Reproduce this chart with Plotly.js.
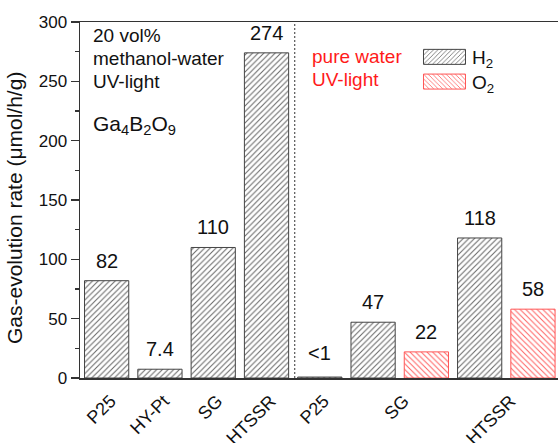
<!DOCTYPE html>
<html>
<head>
<meta charset="utf-8">
<script src="https://cdn.plot.ly/plotly-3.0.1.min.js"></script>
<style>
  html, body { margin: 0; padding: 0; background: #fff; }
  #chart { width: 558px; height: 443px; }
</style>
</head>
<body>
<div id="chart"></div>
<script>
// Ga4B2O9 photocatalysts: H2 / O2 evolution rates (µmol/h/g)

// 20 vol% methanol-water, UV light (H2 only)
const methanolSamples = ['P25', 'HY-Pt', 'SG', 'HTSSR'];
const methanolH2 = [82, 7.4, 110, 274];
const methanolH2Labels = ['82', '7.4', '110', '274'];

// pure water, UV light
const waterSamples = ['P25', 'SG', 'HTSSR'];
const waterH2 = [0.8, 47, 118];
const waterH2Labels = ['<1', '47', '118'];
const waterO2 = [null, 22, 58];
const waterO2Labels = [null, '22', '58'];

// lay the bars out slot by slot along a numeric x axis
let slot = 0;
const h2X = [], h2Y = [], h2Text = [];
const o2X = [], o2Y = [], o2Text = [];
const tickVals = [], tickText = [];

methanolSamples.forEach((name, i) => {
  h2X.push(slot); h2Y.push(methanolH2[i]); h2Text.push(methanolH2Labels[i]);
  tickVals.push(slot); tickText.push(name);
  slot += 1;
});
const dividerX = slot - 0.47;
waterSamples.forEach((name, i) => {
  const start = slot;
  h2X.push(slot); h2Y.push(waterH2[i]); h2Text.push(waterH2Labels[i]);
  slot += 1;
  if (waterO2[i] !== null) {
    o2X.push(slot); o2Y.push(waterO2[i]); o2Text.push(waterO2Labels[i]);
    slot += 1;
  }
  tickVals.push((start + slot - 1) / 2); tickText.push(name);
});

const FONT = 'Arial, "Liberation Sans", sans-serif';
const BAR_W = 0.83;

// plot area geometry (pixels) used to place the free-floating captions
const W = 558, H = 443, M = { l: 80, r: 0, t: 22, b: 65 };
const plotH = H - M.t - M.b;
const py = p => (H - M.b - p) / plotH;   // pixel row -> paper y
const px = p => (p - M.l) / (W - M.l - M.r); // pixel column -> paper x

const traces = [
  {
    type: 'bar', name: 'H<sub>2</sub>', x: h2X, y: h2Y, width: BAR_W,
    marker: {
      color: '#ffffff',
      line: { color: '#444444', width: 1 },
      pattern: { shape: '/', fgcolor: '#666666', bgcolor: '#ffffff', size: 4, solidity: 0.25 }
    },
    hoverinfo: 'skip'
  },
  {
    type: 'bar', name: 'O<sub>2</sub>', x: o2X, y: o2Y, width: BAR_W,
    marker: {
      color: '#ffffff',
      line: { color: '#ff5555', width: 1 },
      pattern: { shape: '\\', fgcolor: '#ff6060', bgcolor: '#ffffff', size: 4, solidity: 0.25 }
    },
    hoverinfo: 'skip'
  }
];

// value labels sitting above each bar
const valueLabels = [];
h2X.forEach((x, i) => valueLabels.push({ x: x, y: h2Y[i], text: h2Text[i] }));
o2X.forEach((x, i) => valueLabels.push({ x: x, y: o2Y[i], text: o2Text[i] }));

const annotations = valueLabels.map(v => ({
  x: v.x, y: v.y, xref: 'x', yref: 'y', text: v.text,
  showarrow: false, yanchor: 'bottom', yshift: v.text === '<1' ? 11 : 7,
  font: { family: FONT, size: 20, color: '#111' }
}));

const caption = (text, xPix, yPix, size, color) => ({
  xref: 'paper', yref: 'paper', x: px(xPix), y: py(yPix),
  xanchor: 'left', yanchor: 'middle', showarrow: false,
  text: text, font: { family: FONT, size: size, color: color }
});

annotations.push(
  caption('20 vol%', 91, 36, 19, '#111'),
  caption('methanol-water', 91, 58.5, 19, '#111'),
  caption('UV-light', 91, 81, 19, '#111'),
  caption('Ga<sub>4</sub>B<sub>2</sub>O<sub>9</sub>', 91, 125, 21, '#111'),
  caption('pure water', 310, 57, 19, '#ff1a1a'),
  caption('UV-light', 310, 79, 19, '#ff1a1a'),
  {
    xref: 'paper', yref: 'paper', x: 0, y: py(208), xshift: -66,
    xanchor: 'center', yanchor: 'middle', textangle: -90, showarrow: false,
    text: 'Gas-evolution rate (\u03bcmol/h/g)',
    font: { family: FONT, size: 21, color: '#111' }
  }
);

const layout = {
  width: W, height: H,
  margin: M,
  paper_bgcolor: '#ffffff', plot_bgcolor: '#ffffff',
  font: { family: FONT, color: '#111' },
  bargap: 0,
  showlegend: true,
  legend: {
    x: 0.705, y: 0.955, xanchor: 'left', yanchor: 'top',
    bgcolor: 'rgba(0,0,0,0)', borderwidth: 0,
    font: { family: FONT, size: 19, color: '#111' },
    itemwidth: 45, tracegroupgap: 0
  },
  xaxis: {
    range: [-0.5, 8.47],
    tickmode: 'array', tickvals: tickVals, ticktext: tickText,
    tickangle: -45, ticks: '', showgrid: false, zeroline: false,
    showline: true, linecolor: '#333', linewidth: 1.5, mirror: true,
    tickfont: { family: FONT, size: 18, color: '#111' },
    ticklabelstandoff: 4, ticklabelshift: 4,
    automargin: false, fixedrange: true
  },
  yaxis: {
    range: [0, 300], dtick: 50,
    ticks: 'outside', ticklen: 8, tickwidth: 1.2, tickcolor: '#333',
    minor: { dtick: 25, ticks: 'outside', ticklen: 4, tickwidth: 1.2, tickcolor: '#333', showgrid: false },
    showgrid: false, zeroline: false,
    showline: true, linecolor: '#333', linewidth: 1.5,
    tickfont: { family: FONT, size: 17, color: '#111' },
    automargin: false, fixedrange: true
  },
  shapes: [
    {
      type: 'line', xref: 'x', yref: 'paper', x0: dividerX, x1: dividerX, y0: 0, y1: 1,
      line: { color: '#333', width: 1, dash: '2px,2px' }
    }
  ],
  annotations: annotations
};

Plotly.newPlot('chart', traces, layout, { staticPlot: true, displayModeBar: false }).then(gd => {
  // widen the legend swatches into long hatched boxes
  document.querySelectorAll('#chart .legend .legendpoints path').forEach(p => {
    p.setAttribute('d', 'M21,7.5H-21V-7.5H21Z');
  });
  // tighten the gap between the two legend entries
  const items = document.querySelectorAll('#chart .legend .traces');
  if (items.length > 1) {
    const t = items[1].getAttribute('transform') || '';
    const m = t.match(/translate\(\s*([-\d.]+)[ ,]+([-\d.]+)\s*\)/);
    if (m) items[1].setAttribute('transform', `translate(${m[1]},${parseFloat(m[2]) - 3})`);
  }
});
</script>
</body>
</html>
